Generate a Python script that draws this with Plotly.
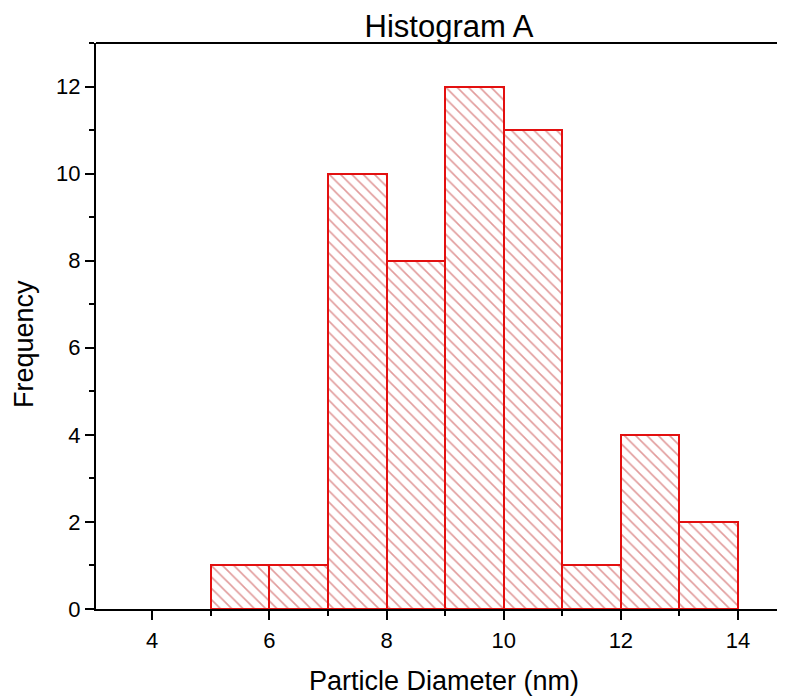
import plotly.graph_objects as go

bin_left = [5, 6, 7, 8, 9, 10, 11, 12, 13]
frequency = [1, 1, 10, 8, 12, 11, 1, 4, 2]
bin_width = 1
x_ticks = [4, 6, 8, 10, 12, 14]
y_ticks = [0, 2, 4, 6, 8, 10, 12]

centers = [b + bin_width / 2 for b in bin_left]

fig = go.Figure(go.Bar(
    x=centers, y=frequency, width=[bin_width] * len(centers),
    marker=dict(
        color="white",
        line=dict(color="#e31010", width=2),
        pattern=dict(shape="\\", fgcolor="rgb(195,55,55)", bgcolor="white",
                     size=8, solidity=0.2),
    ),
    showlegend=False,
))

font = "Liberation Sans, Arial, sans-serif"
# page body has an 8px margin, so the figure is offset by (8, 8)
OFF = 8
W, H = 785 - OFF, 698 - OFF
L, T, B_AX = 96 - OFF, 43 - OFF, 609 - OFF
fig.update_layout(
    width=W, height=H,
    margin=dict(l=L, r=0, t=T, b=H - B_AX),
    paper_bgcolor="white", plot_bgcolor="white",
    bargap=0,
    font=dict(family=font, color="black"),
    title=dict(text="Histogram A", font=dict(size=31, family=font, color="black"),
               x=(449 - OFF) / W, xref="container", xanchor="center",
               y=1 - (26 - OFF) / H, yref="container", yanchor="middle"),
)
x_right = 14 + (785 - 738) / 58.6
fig.update_xaxes(
    range=[3.04, x_right], tickvals=x_ticks, ticks="outside", ticklen=9, tickwidth=2,
    tickcolor="black", showline=True, linecolor="black", linewidth=2, mirror=False,
    showgrid=False, zeroline=False, tickfont=dict(size=22), automargin=False,
    ticklabelstandoff=2,
    minor=dict(ticks="outside", ticklen=5, tickwidth=2, tickcolor="black", dtick=1, tick0=0,
               showgrid=False),
)
fig.update_yaxes(
    range=[0, 13], tickvals=y_ticks, ticks="outside", ticklen=9, tickwidth=2,
    tickcolor="black", showline=True, linecolor="black", linewidth=2, mirror=False,
    showgrid=False, zeroline=False, tickfont=dict(size=22), automargin=False,
    minor=dict(ticks="outside", ticklen=5, tickwidth=2, tickcolor="black", dtick=1, tick0=0,
               showgrid=False),
)
PH = B_AX - T
PW = W - L
fig.add_annotation(text="Particle Diameter (nm)", xref="paper", yref="paper",
                   x=(444 - 96) / PW, y=-(681 - 609) / PH,
                   xanchor="center", yanchor="middle", showarrow=False,
                   font=dict(size=27, family=font, color="black"))
fig.add_annotation(text="Frequency", xref="paper", yref="paper",
                   x=-(96 - 24) / PW, y=(609 - 344) / PH,
                   xanchor="center", yanchor="middle", showarrow=False, textangle=-90,
                   font=dict(size=27, family=font, color="black"))
fig.add_shape(type="line", xref="paper", yref="paper", x0=0, x1=1, y0=1, y1=1,
              line=dict(color="black", width=2))

fig.write_html("out.html")
